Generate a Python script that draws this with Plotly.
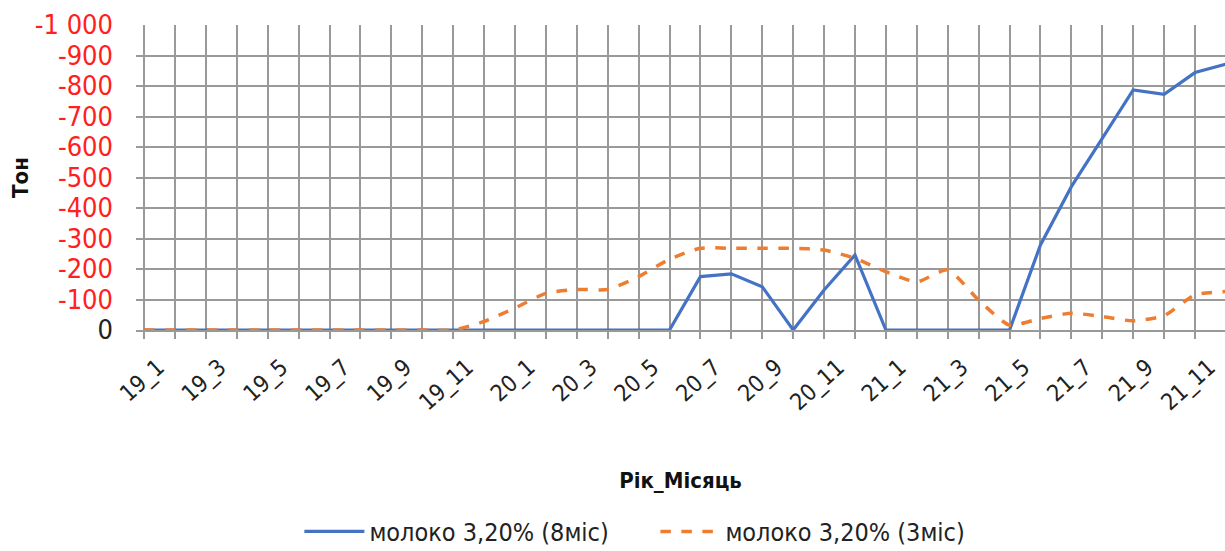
import plotly.graph_objects as go

# Month labels 19_1 .. 21_12
months = [f"{y}_{m}" for y in (19, 20, 21) for m in range(1, 13)]

# Tonnes, milk 3.20% (8-month horizon)
milk_8m = [0, 0, 0, 0, 0, 0, 0, 0, 0, 0, 0, 0,
           0, 0, 0, 0, 0, 0, -175, -184, -142, 0, -131, -246,
           0, 0, 0, 0, 0, -279, -470, -628, -787, -773, -844, -872]

# Tonnes, milk 3.20% (3-month horizon)
milk_3m = [0, 0, 0, 0, 0, 0, 0, 0, 0, 0, 0, -28,
           -72, -120, -133, -133, -175, -232, -268, -268, -268, -268, -262, -235,
           -191, -158, -197, -98, -16, -38, -55, -44, -30, -47, -115, -126]

y_ticks = [0, -100, -200, -300, -400, -500, -600, -700, -800, -900, -1000]
y_tick_text = ["0", "-100", "-200", "-300", "-400", "-500", "-600", "-700",
               "-800", "-900", "-1 000"]

series_names = ["молоко 3,20% (8міс)", "молоко 3,20% (3міс)"]

FONT = "Liberation Sans Narrow, DejaVu Sans Condensed, Arial Narrow, sans-serif"
GRID = "#999999"

fig = go.Figure()
fig.add_trace(go.Scatter(
    x=months, y=milk_8m, name=series_names[0], mode="lines",
    line=dict(color="#4472C4", width=3.2),
))
fig.add_trace(go.Scatter(
    x=months, y=milk_3m, name=series_names[1], mode="lines",
    line=dict(color="#ED7D31", width=3.5, dash="dash", shape="spline", smoothing=0.6),
))

tick_labels = [m if i % 2 == 0 else "" for i, m in enumerate(months)]
y_labels = [t if v == 0 else f"<span style='color:#ff2020'>{t}</span>"
            for v, t in zip(y_ticks, y_tick_text)]

fig.update_layout(
    width=1225, height=551,
    margin=dict(l=136, r=0, t=25, b=221),
    paper_bgcolor="white", plot_bgcolor="white",
    font=dict(family=FONT, color="#222222"),
    showlegend=True,
    legend=dict(
        orientation="h", xref="container", yref="container",
        x=0.535, xanchor="center", y=0.035, yanchor="middle",
        font=dict(size=25, family=FONT, color="#222222"),
        itemwidth=60, traceorder="normal",
        entrywidth=281, entrywidthmode="pixels",
    ),
    xaxis=dict(
        type="category", categoryorder="array", categoryarray=months,
        range=[-0.26, 34.97],
        tickmode="array", tickvals=months, ticktext=tick_labels,
        tickangle=-42, tickfont=dict(size=23, family=FONT, color="#222222"),
        ticklabelstandoff=6, ticklabelshift=14,
        ticks="outside", ticklen=7, tickcolor=GRID, tickwidth=1.5,
        showgrid=True, gridcolor=GRID, gridwidth=1.5,
        showline=True, linecolor=GRID, linewidth=1.5,
        zeroline=False,
        title=dict(text="<b>Рік_Місяць</b>", font=dict(size=22, family=FONT, color="#111111"),
                   standoff=58),
    ),
    yaxis=dict(
        range=[0, -1000],
        tickmode="array", tickvals=y_ticks, ticktext=y_labels,
        tickfont=dict(size=27, family=FONT, color="#222222"),
        showgrid=True, gridcolor=GRID, gridwidth=1.5,
        showline=False, zeroline=False, ticks="", ticklabelstandoff=22,
        title=dict(text="<b>Тон</b>", font=dict(size=22, family=FONT, color="#111111"),
                   standoff=0),
    ),
)

fig.write_html("out.html")
